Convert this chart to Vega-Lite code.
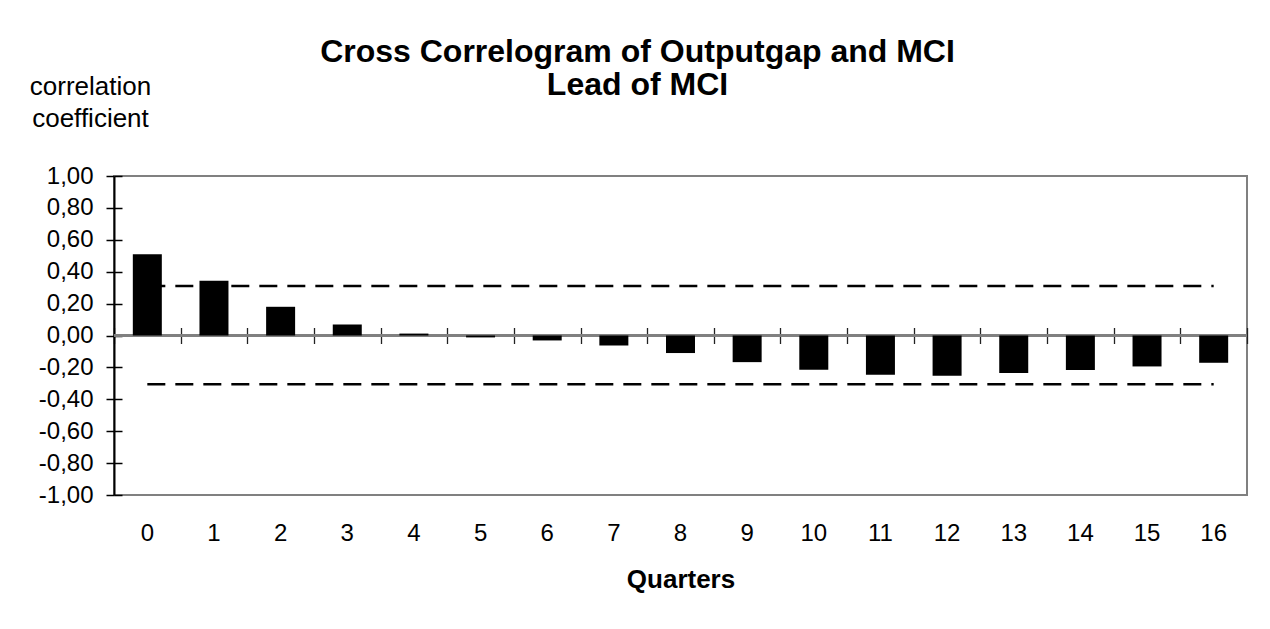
{
  "$schema": "https://vega.github.io/schema/vega-lite/v6.json",
  "width": 1133,
  "height": 319,
  "autosize": {"type": "none"},
  "padding": {"left": 114, "top": 176, "right": 23, "bottom": 134},
  "background": "white",
  "config": {
    "font": "Liberation Sans",
    "locale": {"number": {"decimal": ",", "thousands": ".", "grouping": [3], "currency": ["", " €"], "minus": "-"}},
    "view": {"stroke": "#808080", "strokeWidth": 2}
  },
  "title": {
    "text": ["Cross Correlogram of Outputgap and MCI", "Lead of MCI"],
    "fontSize": 32,
    "fontWeight": "bold",
    "font": "Liberation Sans",
    "color": "black",
    "lineHeight": 33,
    "anchor": "middle",
    "dx": -43,
    "offset": -29
  },
  "data": {
    "values": [
      {"Quarter": 0, "r": 0.51, "upper": 0.31, "lower": -0.305},
      {"Quarter": 1, "r": 0.343, "upper": 0.31, "lower": -0.305},
      {"Quarter": 2, "r": 0.18, "upper": 0.31, "lower": -0.305},
      {"Quarter": 3, "r": 0.069, "upper": 0.31, "lower": -0.305},
      {"Quarter": 4, "r": 0.012, "upper": 0.31, "lower": -0.305},
      {"Quarter": 5, "r": -0.012, "upper": 0.31, "lower": -0.305},
      {"Quarter": 6, "r": -0.031, "upper": 0.31, "lower": -0.305},
      {"Quarter": 7, "r": -0.063, "upper": 0.31, "lower": -0.305},
      {"Quarter": 8, "r": -0.11, "upper": 0.31, "lower": -0.305},
      {"Quarter": 9, "r": -0.167, "upper": 0.31, "lower": -0.305},
      {"Quarter": 10, "r": -0.215, "upper": 0.31, "lower": -0.305},
      {"Quarter": 11, "r": -0.246, "upper": 0.31, "lower": -0.305},
      {"Quarter": 12, "r": -0.252, "upper": 0.31, "lower": -0.305},
      {"Quarter": 13, "r": -0.235, "upper": 0.31, "lower": -0.305},
      {"Quarter": 14, "r": -0.217, "upper": 0.31, "lower": -0.305},
      {"Quarter": 15, "r": -0.194, "upper": 0.31, "lower": -0.305},
      {"Quarter": 16, "r": -0.171, "upper": 0.31, "lower": -0.305}
    ]
  },
  "resolve": {"axis": {"x": "independent", "y": "independent"}},
  "layer": [
    {
      "mark": {"type": "rule", "color": "#808080", "strokeWidth": 1.5},
      "encoding": {"y": {"datum": 0, "type": "quantitative", "scale": {"domain": [-1, 1], "nice": false, "zero": false}, "axis": null}}
    },
    {
      "mark": {"type": "bar", "color": "black", "size": 29},
      "encoding": {
        "x": {
          "field": "Quarter", "type": "ordinal",
          "scale": {"paddingInner": 0, "paddingOuter": 0},
          "axis": {
            "orient": "bottom", "title": "Quarters", "labelAngle": 0,
            "ticks": false, "domain": false,
            "labelFontSize": 24, "labelColor": "black", "labelPadding": 26,
            "titleFontSize": 26, "titleFontWeight": "bold", "titleColor": "black", "titlePadding": 21
          }
        },
        "y": {
          "field": "r", "type": "quantitative",
          "scale": {"domain": [-1, 1], "nice": false, "zero": false},
          "axis": {
            "orient": "left",
            "values": [-1, -0.8, -0.6, -0.4, -0.2, 0, 0.2, 0.4, 0.6, 0.8, 1],
            "format": ".2f", "grid": false,
            "domainColor": "black", "domainWidth": 2,
            "tickColor": "black", "tickWidth": 1.5, "tickSize": 8,
            "labelFontSize": 24, "labelColor": "black", "labelPadding": 13,
            "title": ["correlation", "coefficient"],
            "titleAngle": 0, "titleAlign": "center", "titleBaseline": "alphabetic",
            "titleX": -24, "titleY": -82,
            "titleFontSize": 26, "titleFontWeight": "normal", "titleColor": "black", "titleLineHeight": 32
          }
        }
      }
    },
    {
      "mark": {"type": "line", "color": "black", "strokeWidth": 2.5, "strokeDash": [18, 10]},
      "encoding": {
        "x": {
          "field": "Quarter", "type": "ordinal",
          "scale": {"paddingInner": 0, "paddingOuter": 0},
          "axis": {
            "orient": "bottom", "offset": -167.5, "title": null, "labels": false,
            "domain": false, "tickBand": "extent", "tickSize": 16,
            "tickColor": "#222222", "tickWidth": 1.3
          }
        },
        "y": {
          "field": "upper", "type": "quantitative",
          "scale": {"domain": [-1, 1], "nice": false, "zero": false},
          "axis": {
            "orient": "left", "offset": -8, "title": null, "labels": false,
            "domain": false, "grid": false,
            "values": [-1, -0.8, -0.6, -0.4, -0.2, 0, 0.2, 0.4, 0.6, 0.8, 1],
            "tickSize": 8, "tickColor": "black", "tickWidth": 1.5
          }
        }
      }
    },
    {
      "mark": {"type": "line", "color": "black", "strokeWidth": 2.5, "strokeDash": [18, 10]},
      "encoding": {
        "x": {"field": "Quarter", "type": "ordinal", "axis": null},
        "y": {"field": "lower", "type": "quantitative", "scale": {"domain": [-1, 1], "nice": false, "zero": false}, "axis": null}
      }
    }
  ]
}
